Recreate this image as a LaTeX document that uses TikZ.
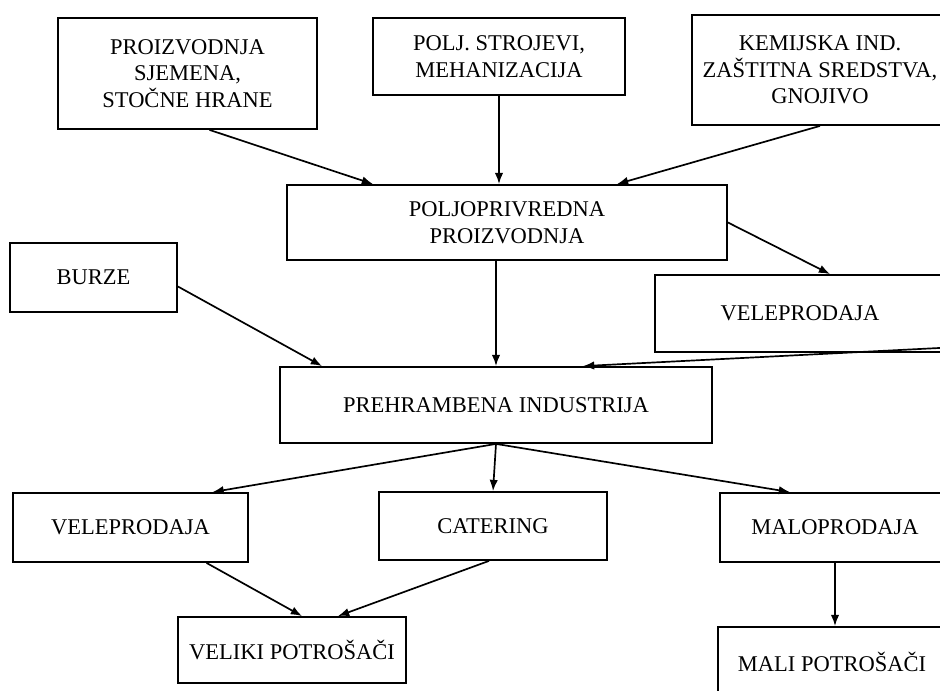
\documentclass[tikz,border=0pt]{standalone}
\usepackage{fontspec}
\setmainfont{Liberation Serif}
\usetikzlibrary{arrows.meta,calc}

\begin{document}
\begin{tikzpicture}[x=0.25mm, y=-0.25mm,
		box/.style 2 args={draw, line width=1.3pt, inner sep=0pt, align=center,
				minimum width=#1*0.25mm, minimum height=#2*0.25mm,
				font=\fontsize{16}{19}\selectfont},
		flow/.style={-{Latex[length=2.8mm,width=2.1mm]}, line width=1.2pt}]

	\clip (0,0) rectangle (940,691);

	% gornji red
	\node[box={259}{111}] (sjeme) at (187.5,73.5) {PROIZVODNJA\\SJEMENA,\\STOČNE HRANE};
	\node[box={252}{77}] (strojevi) at (499,56.5) {POLJ. STROJEVI,\\MEHANIZACIJA};
	\node[box={256}{110}] (kemija) at (820,70) {KEMIJSKA IND.\\ZAŠTITNA SREDSTVA,\\GNOJIVO};

	% sredina
	\node[box={440}{75}] (poljo) at (507,222.5) {POLJOPRIVREDNA\\PROIZVODNJA};
	\node[box={167}{69}] (burze) at (93.5,277.5) {BURZE};
	\node[box={290}{77}] (velepr1) at (800,313.5) {VELEPRODAJA};
	\node[box={432}{76}] (prehr) at (496,405) {PREHRAMBENA INDUSTRIJA};

	% donji red
	\node[box={235}{69}] (velepr2) at (130.5,527.5) {VELEPRODAJA};
	\node[box={228}{68}] (catering) at (493,526) {CATERING};
	\node[box={230}{69}] (malo) at (835,527.5) {MALOPRODAJA};
	\node[box={228}{66}] (veliki) at (292,650) {VELIKI POTROŠAČI};
	\node[box={228}{70}] (mali) at (832,662) {MALI POTROŠAČI};

	% strelice
	\draw[flow] ($(sjeme.south)+(22,0)$) -- ($(poljo.north)+(-134,0)$);
	\draw[flow] (strojevi.south) -- (strojevi.south |- poljo.north);
	\draw[flow] (kemija.south) -- ($(poljo.north)+(110,0)$);
	\draw[flow] (poljo.east) -- ($(velepr1.north)+(30,0)$);
	\draw[flow] (prehr.north |- poljo.south) -- (prehr.north);
	\draw[flow] ($(burze.east)+(0,9)$) -- ($(prehr.north)+(-174,0)$);
	\draw[flow] ($(velepr1.south east)+(-5,-5)$) -- ($(prehr.north)+(87,0)$);
	\draw[flow] (prehr.south) -- ($(velepr2.north)+(82,0)$);
	\draw[flow] (prehr.south) -- (catering.north);
	\draw[flow] (prehr.south) -- ($(malo.north)+(-45,0)$);
	\draw[flow] ($(velepr2.south)+(76,0)$) -- ($(veliki.north)+(10,0)$);
	\draw[flow] ($(catering.south)+(-4,0)$) -- ($(veliki.north)+(46,0)$);
	\draw[flow] (malo.south) -- (malo.south |- mali.north);
\end{tikzpicture}
\end{document}
